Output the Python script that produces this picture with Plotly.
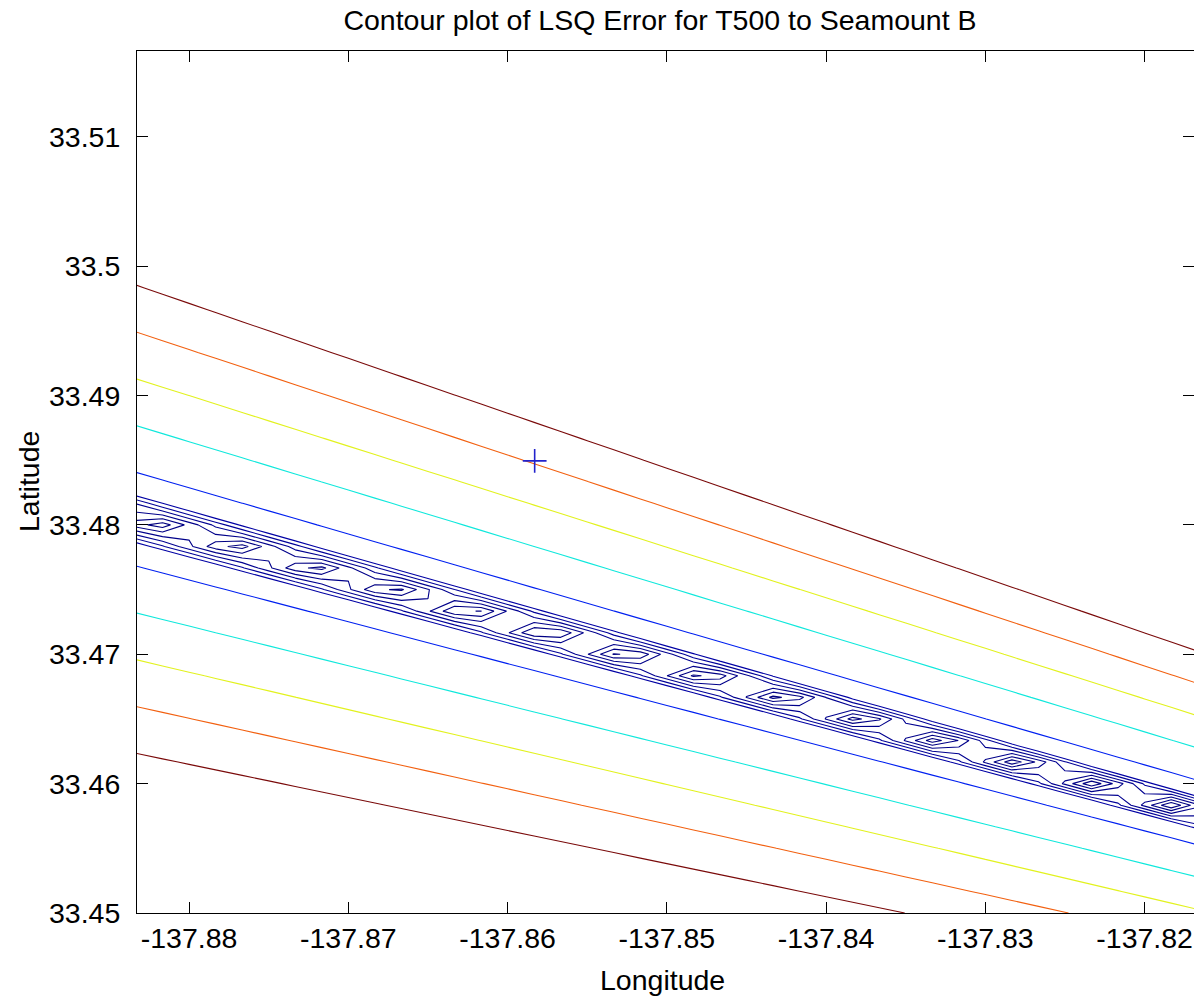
import numpy as np
import plotly.graph_objects as go

# ---- grid definition (degrees) ----
LON_CENTER = -137.85
LAT_CENTER = 33.483333
HALF_SPAN = 1.0 / 30.0
N_GRID = 41

# ---- LSQ error surface model: misfit grows with bearing offset from a far focal point ----
FOCUS_LON = -137.66896
FOCUS_LAT = 33.40753
BEST_SLOPE = -0.3401
SLOPE_UNIT = 0.016884

# ---- contour levels and their colours (jet) ----
LEVELS = [1/12, 2/12, 3/12, 4/12, 5/12, 6/12, 1, 2, 3, 4, 5]
LEVEL_COLORS = ["#00007f", "#000084", "#00008a", "#000090", "#000098", "#0000a4",
                "#0020f0", "#10e8dc", "#e2f21e", "#f26010", "#7a0a0a"]

# ---- marked position ----
MARK_LON = [-137.8583]
MARK_LAT = [33.48495]

# ---- axes ----
X_TICKS = [-137.88, -137.87, -137.86, -137.85, -137.84, -137.83, -137.82]
X_TICK_TEXT = ["-137.88", "-137.87", "-137.86", "-137.85", "-137.84", "-137.83", "-137.82"]
Y_TICKS = [33.45, 33.46, 33.47, 33.48, 33.49, 33.50, 33.51]
Y_TICK_TEXT = ["33.45", "33.46", "33.47", "33.48", "33.49", "33.5", "33.51"]
X_RANGE = [-137.88327, -137.8169]
Y_RANGE = [33.45, 33.51663]

lon = np.linspace(LON_CENTER - HALF_SPAN, LON_CENTER + HALF_SPAN, N_GRID)
lat = np.linspace(LAT_CENTER - HALF_SPAN, LAT_CENTER + HALF_SPAN, N_GRID)
LON, LAT = np.meshgrid(lon, lat)
slope = (LAT - FOCUS_LAT) / (LON - FOCUS_LON)
err = np.abs(slope - BEST_SLOPE) / SLOPE_UNIT

FONT = "Liberation Sans, Arial, Helvetica, sans-serif"
FS = 28.5

fig = go.Figure()
for lev, col in zip(LEVELS, LEVEL_COLORS):
    fig.add_trace(go.Contour(
        x=lon, y=lat, z=err,
        autocontour=False,
        contours=dict(start=lev, end=lev, size=1, coloring="lines"),
        colorscale=[[0, col], [1, col]],
        line=dict(width=1.1, smoothing=0),
        showscale=False, hoverinfo="skip",
    ))

fig.add_trace(go.Scatter(
    x=MARK_LON, y=MARK_LAT, mode="markers",
    marker=dict(symbol="cross-thin", size=17, line=dict(color="#2222cc", width=1.6)),
    hoverinfo="skip", showlegend=False,
))

axis_common = dict(
    showline=True, linecolor="black", linewidth=1, mirror="ticks",
    ticks="inside", ticklen=11, tickcolor="black", tickwidth=1,
    showgrid=False, zeroline=False,
    tickfont=dict(family=FONT, size=FS, color="black"),
)

W, H = 1194, 998
fig.update_layout(
    width=W, height=H,
    margin=dict(l=137, r=0, t=51, b=85),
    paper_bgcolor="white", plot_bgcolor="white",
    showlegend=False,
    title=dict(text="Contour plot of LSQ Error for T500 to Seamount B",
               x=660 / W, xanchor="center", xref="container",
               y=1 - 20 / H, yanchor="middle", yref="container",
               font=dict(family=FONT, size=FS, color="black")),
    xaxis=dict(range=X_RANGE, tickvals=X_TICKS, ticktext=X_TICK_TEXT,
               ticklabelstandoff=0, **axis_common),
    yaxis=dict(range=Y_RANGE, tickvals=Y_TICKS, ticktext=Y_TICK_TEXT,
               ticklabelstandoff=10, **axis_common),
    annotations=[
        dict(text="Longitude", xref="paper", yref="paper",
             x=(662 - 137) / 1057, y=(913 - 980) / 862,
             xanchor="center", yanchor="middle", showarrow=False,
             font=dict(family=FONT, size=FS, color="black")),
        dict(text="Latitude", xref="paper", yref="paper",
             x=(29 - 137) / 1057, y=(913 - 482) / 862, textangle=-90,
             xanchor="center", yanchor="middle", showarrow=False,
             font=dict(family=FONT, size=FS, color="black")),
    ],
)

fig.write_html("out.html",
               config={"displayModeBar": False},
               post_script="document.body.style.margin='0';document.body.style.overflow='hidden';")
